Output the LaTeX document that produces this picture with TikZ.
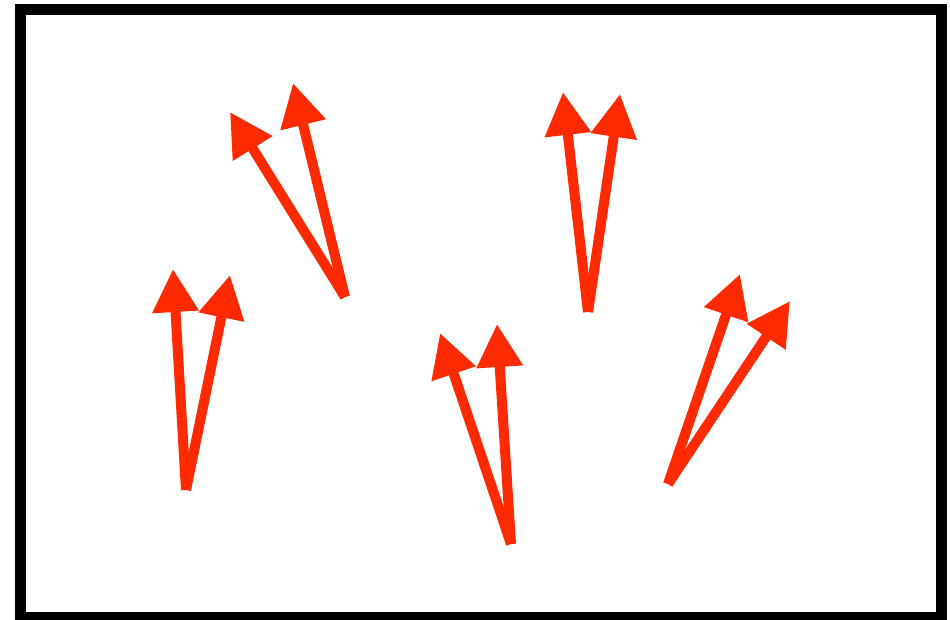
\documentclass[tikz,border=0pt]{standalone}
\usetikzlibrary{arrows.meta}
\definecolor{arrowred}{RGB}{255,42,0}
\tikzset{
  redarrow/.style={draw=arrowred, line width=10pt, line cap=butt,
    -{Triangle[length=43pt,width=44pt]}},
  frame/.style={draw=black, line width=11pt}
}
\begin{document}
\begin{tikzpicture}[x=1pt,y=-1pt]
\useasboundingbox (0,0) rectangle (950,620);
\draw[frame] (20.5,9.5) rectangle (941.5,617.5);
% pair 1
\coordinate (t1) at (186,490);
\coordinate (a1) at (173,269);
\coordinate (b1) at (230,275);
% pair 2
\coordinate (t2) at (345,297);
\coordinate (a2) at (230,112);
\coordinate (b2) at (293,83);
% pair 3
\coordinate (t3) at (588,312);
\coordinate (a3) at (563,92);
\coordinate (b3) at (620,94);
% pair 4
\coordinate (t4) at (511,544);
\coordinate (a4) at (440,333);
\coordinate (b4) at (497,324);
% pair 5
\coordinate (t5) at (668,484);
\coordinate (a5) at (740,274);
\coordinate (b5) at (790,301);
\foreach \i in {1,...,5}{
  \draw[redarrow] (t\i) -- (a\i);
  \draw[redarrow] (t\i) -- (b\i);
}
\end{tikzpicture}
\end{document}
